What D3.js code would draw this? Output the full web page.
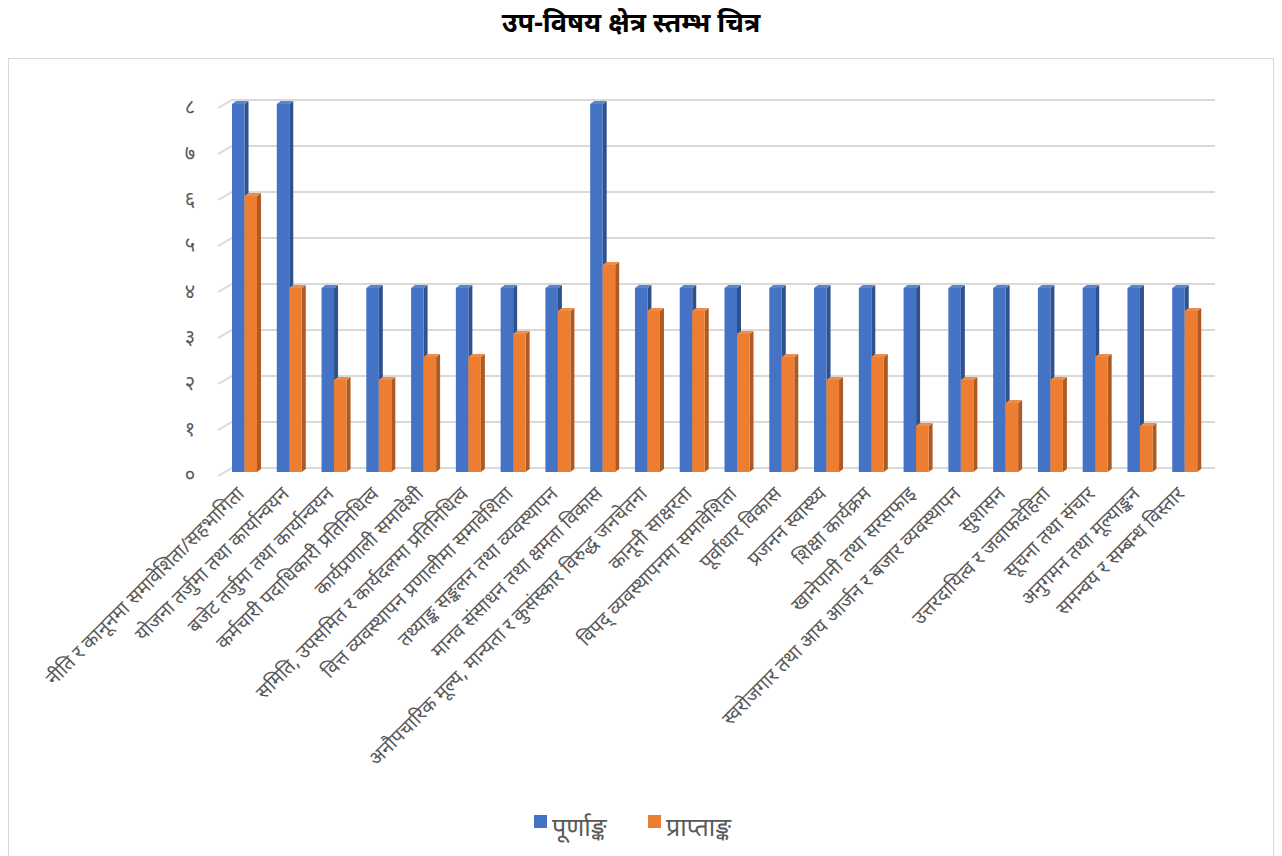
<!DOCTYPE html>
<html>
<head>
<meta charset="utf-8">
<script src="https://cdn.jsdelivr.net/npm/d3@7"></script>
<style>
body{margin:0;background:#fff;font-family:"Noto Sans","Noto Sans Devanagari","Lohit Devanagari",sans-serif;}
</style>
</head>
<body>
<svg id="chart" width="1282" height="856"></svg>
<script>
const categories=["नीति र कानूनमा समावेशिता/सहभागिता","योजना तर्जुमा तथा कार्यान्वयन","बजेट तर्जुमा तथा कार्यान्वयन","कर्मचारी पदाधिकारी प्रतिनिधित्व","कार्यप्रणाली समावेशी","समिति, उपसमित र कार्यदलमा प्रतिनिधित्व","वित्त व्यवस्थापन प्रणालीमा समावेशिता","तथ्याङ्क सङ्कलन तथा व्यवस्थापन","मानव संसाधन तथा क्षमता विकास","अनौपचारिक मूल्य, मान्यता र कुसंस्कार विरुद्ध जनचेतना","कानूनी साक्षरता","विपद् व्यवस्थापनमा समावेशिता","पूर्वाधार विकास","प्रजनन स्वास्थ्य","शिक्षा कार्यक्रम","खानेपानी तथा सरसफाइ","स्वरोजगार तथा आय आर्जन र बजार व्यवस्थापन","सुशासन","उत्तरदायित्व र जवाफदेहिता","सूचना तथा संचार","अनुगमन तथा मूल्याङ्कन","समन्वय र सम्बन्ध विस्तार"]
const fullMarks=[8,8,4,4,4,4,4,4,8,4,4,4,4,4,4,4,4,4,4,4,4,4]
const obtained=[6,4,2,2,2.5,2.5,3,3.5,4.5,3.5,3.5,3,2.5,2,2.5,1,2,1.5,2,2.5,1,3.5]
const seriesNames=["पूर्णाङ्क","प्राप्ताङ्क"]
const tickLabels=["०","१","२","३","४","५","६","७","८"]

const colors={front:["#4472C4","#ED7D31"],side:["#2F528F","#AE5A21"],top:["#5B84CE","#F08C46"]}
const svg=d3.select("#chart")

svg.append("rect").attr("x",8.5).attr("y",58.5).attr("width",1265).attr("height",820)
	.attr("fill","#fff").attr("stroke","#d9d9d9")

svg.append("text").attr("x",631).attr("y",32).attr("text-anchor","middle")
	.attr("font-size",27).attr("font-weight","bold").attr("fill","#000")
	.text("उप-विषय क्षेत्र स्तम्भ चित्र")

const yg=d3.scaleLinear().domain([0,8]).range([468,100]) // back wall grid
const y=d3.scaleLinear().domain([0,8]).range([472,104])  // bar fronts
const x0=d3.scaleBand().domain(categories).range([222,1207])
const x1=d3.scaleBand().domain([0,1]).range([10,35])
const dx=4,dy=3

// grid
const grid=svg.append("g")
d3.range(0,9).forEach(v=>{
	grid.append("path")
	.attr("d",`M218,${yg(v)+8}L232,${yg(v)}H1215`)
	.attr("fill","none").attr("stroke","#d9d9d9").attr("stroke-width",2)
})
svg.append("g").selectAll("text").data(d3.range(0,9)).join("text")
	.attr("x",190).attr("y",v=>yg(v)+14).attr("text-anchor","middle")
	.attr("font-size",20).attr("fill","#595959").text(v=>tickLabels[v])

// bars
const rows=categories.map((c,i)=>[fullMarks[i],obtained[i]])
const g=svg.append("g").selectAll("g").data(rows).join("g")
	.attr("transform",(d,i)=>`translate(${x0(categories[i])},0)`)
const bw=x1.bandwidth()
const bar=g.selectAll("g").data(d=>d.map((v,s)=>({v,s}))).join("g")
bar.append("path").attr("fill",d=>colors.side[d.s])
	.attr("d",d=>{const X=x1(d.s)+bw,Y=y(d.v);return `M${X},${Y}L${X+dx},${Y-dy}L${X+dx},${y(0)-dy}L${X},${y(0)}Z`})
bar.append("path").attr("fill",d=>colors.top[d.s])
	.attr("d",d=>{const X=x1(d.s),Y=y(d.v);return `M${X},${Y}L${X+dx},${Y-dy}L${X+bw+dx},${Y-dy}L${X+bw},${Y}Z`})
bar.append("rect").attr("fill",d=>colors.front[d.s])
	.attr("x",d=>x1(d.s)).attr("width",bw)
	.attr("y",d=>y(d.v)).attr("height",d=>y(0)-y(d.v))

// category labels
svg.append("g").selectAll("text").data(categories).join("text")
	.attr("transform",d=>`translate(${x0(d)+x0.bandwidth()/2+1},495) rotate(-45)`)
	.attr("text-anchor","end").attr("font-size",19.5).attr("fill","#595959")
	.text(d=>d)

// legend
const leg=svg.append("g")
const lx=[534,648]
seriesNames.forEach((n,i)=>{
	leg.append("rect").attr("x",lx[i]).attr("y",815).attr("width",13).attr("height",13).attr("fill",colors.front[i])
	leg.append("text").attr("x",lx[i]+18).attr("y",836).attr("font-size",25).attr("fill","#595959").text(n)
})
</script>
</body>
</html>
